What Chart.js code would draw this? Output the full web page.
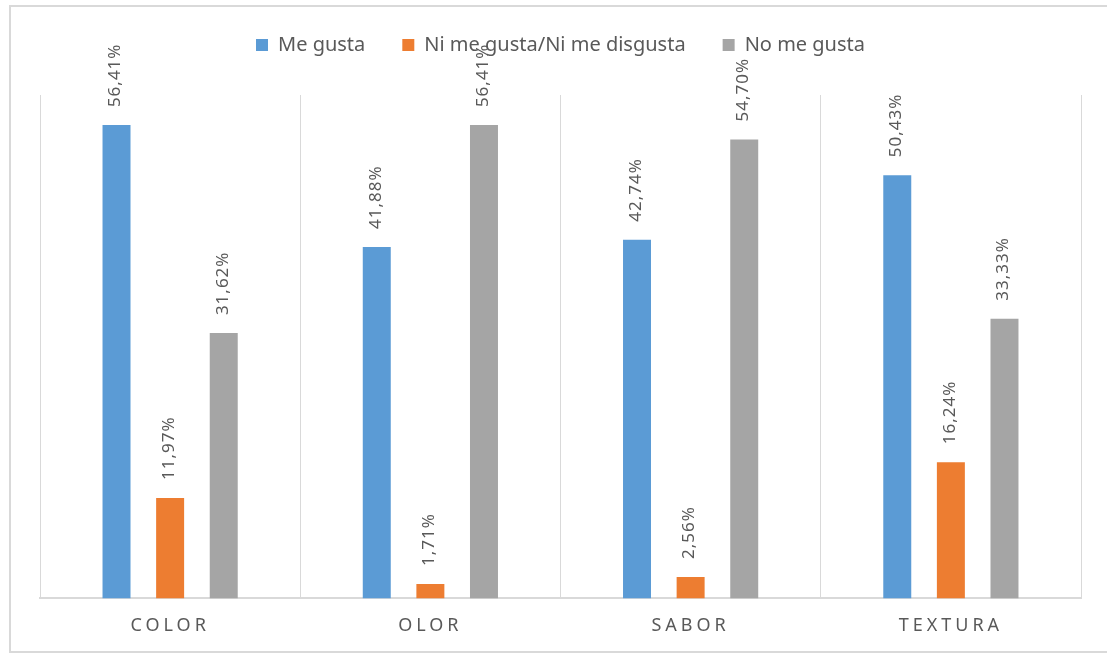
<!DOCTYPE html>
<html>
<head>
<meta charset="utf-8">
<script src="https://cdn.jsdelivr.net/npm/chart.js@4.4.1/dist/chart.umd.min.js"></script>
<style>
  html, body { margin: 0; padding: 0; background: #ffffff; }
  #wrap { width: 1107px; height: 654px; position: relative; }
</style>
</head>
<body>
<div id="wrap"><canvas id="chart" width="1107" height="654"></canvas></div>
<script>
// Survey results per sensory attribute (percent of respondents)
const categories = ['COLOR', 'OLOR', 'SABOR', 'TEXTURA'];
const seriesNames = ['Me gusta', 'Ni me gusta/Ni me disgusta', 'No me gusta'];
const meGusta = [56.41, 41.88, 42.74, 50.43];
const neutral = [11.97, 1.71, 2.56, 16.24];
const noMeGusta = [31.62, 56.41, 54.70, 33.33];
const seriesColors = ['#5B9BD5', '#ED7D31', '#A5A5A5'];

const TEXT_COLOR = '#595959';
const LINE_COLOR = '#D9D9D9';
const FONT = '"Noto Sans", "Open Sans", sans-serif';

// Category axis whose tick labels are drawn with wide letter spacing
class SpacedCategoryScale extends Chart.CategoryScale {
  drawLabels(area) {
    const ctx = this.ctx;
    ctx.save();
    ctx.letterSpacing = '4px';
    super.drawLabels(area);
    ctx.restore();
  }
}
SpacedCategoryScale.id = 'spacedCategory';
SpacedCategoryScale.defaults = Chart.CategoryScale.defaults;
Chart.register(SpacedCategoryScale);

// Extra room below the legend so the value labels fit above the tallest bars
const legendGapPlugin = {
  id: 'legendGap',
  beforeInit(chart) {
    const legend = chart.legend;
    if (!legend) return;
    const fit = legend.fit;
    legend.fit = function () {
      fit.call(this);
      this.height += 30;
    };
  }
};

// Light frame around the whole chart
const framePlugin = {
  id: 'frame',
  beforeDraw(chart) {
    const ctx = chart.ctx;
    ctx.save();
    ctx.fillStyle = '#ffffff';
    ctx.fillRect(0, 0, chart.width, chart.height);
    ctx.strokeStyle = LINE_COLOR;
    ctx.lineWidth = 2;
    ctx.strokeRect(10, 6, chart.width, chart.height - 8);
    ctx.restore();
  }
};

// Rotated percentage labels above each bar
const valueLabelPlugin = {
  id: 'valueLabels',
  afterDatasetsDraw(chart) {
    const ctx = chart.ctx;
    ctx.save();
    ctx.font = '17px ' + FONT;
    ctx.fillStyle = TEXT_COLOR;
    ctx.letterSpacing = '1px';
    ctx.textAlign = 'left';
    ctx.textBaseline = 'middle';
    chart.data.datasets.forEach((ds, di) => {
      const meta = chart.getDatasetMeta(di);
      meta.data.forEach((bar, i) => {
        const v = ds.data[i];
        const text = v.toFixed(2).replace('.', ',') + '%';
        ctx.save();
        ctx.translate(bar.x - 1, bar.y - 18);
        ctx.rotate(-Math.PI / 2);
        ctx.fillText(text, 0, 0);
        ctx.restore();
      });
    });
    ctx.restore();
  }
};

new Chart(document.getElementById('chart'), {
  type: 'bar',
  data: {
    labels: categories,
    datasets: [
      { label: seriesNames[0], data: meGusta, backgroundColor: seriesColors[0] },
      { label: seriesNames[1], data: neutral, backgroundColor: seriesColors[1] },
      { label: seriesNames[2], data: noMeGusta, backgroundColor: seriesColors[2] }
    ]
  },
  options: {
    responsive: false,
    animation: false,
    devicePixelRatio: 1,
    layout: { padding: { left: 40, right: 26, top: -2, bottom: 0 } },
    datasets: {
      bar: { categoryPercentage: 0.618, barPercentage: 0.522 }
    },
    plugins: {
      legend: {
        position: 'top',
        labels: {
          color: TEXT_COLOR,
          font: { family: FONT, size: 20 },
          boxWidth: 12,
          boxHeight: 12,
          padding: 37
        }
      },
      tooltip: { enabled: false }
    },
    scales: {
      x: {
        type: 'spacedCategory',
        grid: { display: true, offset: true, color: LINE_COLOR, lineWidth: 1, drawTicks: false },
        border: { display: true, color: LINE_COLOR, width: 2 },
        ticks: { color: TEXT_COLOR, font: { family: FONT, size: 18 }, padding: 17 }
      },
      y: {
        display: false,
        min: 0,
        max: 60
      }
    }
  },
  plugins: [legendGapPlugin, framePlugin, valueLabelPlugin]
});
</script>
</body>
</html>
